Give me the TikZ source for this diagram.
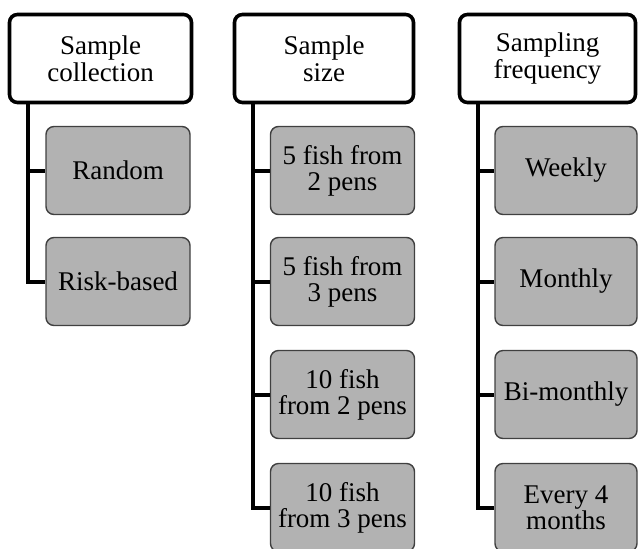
\documentclass[tikz,border=0pt]{standalone}
\usepackage{fontspec}
\setmainfont{Liberation Serif}

\begin{document}
\begin{tikzpicture}[x=0.5pt,y=-0.5pt,
    head/.style={draw=black, line width=1.8pt, fill=white, rounded corners=4pt,
        minimum height=44pt, align=center, inner sep=0pt,
        font=\fontsize{13.5}{13.6}\selectfont},
    item/.style={draw=black!75, line width=0.7pt, fill=black!30, rounded corners=4pt,
        minimum width=72pt, minimum height=44pt, align=center, inner sep=0pt,
        font=\fontsize{13.5}{12.9}\selectfont},
    branch/.style={line width=2pt}]
    \useasboundingbox (0,0) rectangle (638,548);

    % headers
    \node[head, minimum width=91pt] (hcol) at (100.5,58.5) {Sample\\collection};
    \node[head, minimum width=89.5pt] (hsize) at (324,58.5) {Sample\\size};
    \node[head, minimum width=88pt] (hfreq) at (547.5,58.5) {Sampling\\frequency};

    % sample collection
    \node[item] (rnd) at (118,170.5) {Random};
    \node[item] (risk) at (118,281.5) {Risk-based};

    % sample size
    \node[item] (s52) at (342.5,170.5) {5 fish from\\2 pens};
    \node[item] (s53) at (342.5,281.5) {5 fish from\\3 pens};
    \node[item] (s102) at (342.5,394.5) {10 fish\\from 2 pens};
    \node[item] (s103) at (342.5,507.5) {10 fish\\from 3 pens};

    % sampling frequency
    \node[item, minimum width=71pt] (wk) at (566,170.5) {Weekly};
    \node[item, minimum width=71pt] (mo) at (566,281.5) {Monthly};
    \node[item, minimum width=71pt] (bi) at (566,394.5) {Bi-monthly};
    \node[item, minimum width=71pt] (e4) at (566,507.5) {Every 4\\months};

    % trunks
    \coordinate (t1) at (28,0);
    \coordinate (t2) at (253,0);
    \coordinate (t3) at (478,0);

    \draw[branch] (hcol.south -| t1) |- (rnd.west);
    \draw[branch] (hcol.south -| t1) |- (risk.west);

    \draw[branch] (hsize.south -| t2) |- (s52.west);
    \draw[branch] (hsize.south -| t2) |- (s53.west);
    \draw[branch] (hsize.south -| t2) |- (s102.west);
    \draw[branch] (hsize.south -| t2) |- (s103.west);

    \draw[branch] (hfreq.south -| t3) |- (wk.west);
    \draw[branch] (hfreq.south -| t3) |- (mo.west);
    \draw[branch] (hfreq.south -| t3) |- (bi.west);
    \draw[branch] (hfreq.south -| t3) |- (e4.west);
\end{tikzpicture}
\end{document}
